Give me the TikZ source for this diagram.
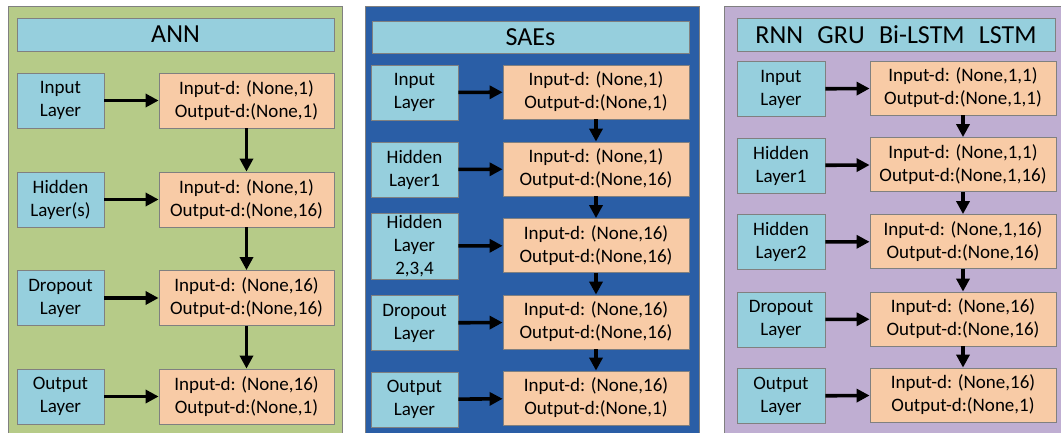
\documentclass[tikz,border=0pt]{standalone}
\usepackage{fontspec}
\setmainfont{Carlito}
\usetikzlibrary{arrows.meta}

\definecolor{annbg}{RGB}{182,203,136}
\definecolor{saebg}{RGB}{42,94,166}
\definecolor{rnnbg}{RGB}{191,174,210}
\definecolor{layerblue}{RGB}{150,207,221}
\definecolor{dimpeach}{RGB}{248,203,166}
\definecolor{edgegray}{RGB}{128,128,128}

\tikzset{
  panel/.style={fill=#1,draw=edgegray,line width=0.8pt},
  titlebox/.style={draw=edgegray,fill=layerblue,line width=0.8pt,inner sep=0pt,
    minimum height=33pt,font=\fontsize{26}{30}\selectfont},
  layerbox/.style={draw=edgegray,fill=layerblue,line width=0.8pt,inner sep=0pt,
    align=center,minimum width=87pt,minimum height=55pt,
    font=\fontsize{19}{23}\selectfont},
  dimbox/.style={draw=edgegray,fill=dimpeach,line width=0.8pt,inner sep=0pt,
    align=center,minimum width=#1,minimum height=54pt,
    font=\fontsize{19}{23}\selectfont},
  dimbox/.default=186pt,
  flow/.style={-{Triangle[length=13pt,width=13pt]},line width=3.6pt}
}

\begin{document}
\begin{tikzpicture}[x=1pt,y=-1pt]
\useasboundingbox (0,0) rectangle (1061,432);
\clip (0,0) rectangle (1061,432);

% panels
\draw[panel=annbg] (8,6) rectangle (342,440);
\draw[panel=saebg] (365,6) rectangle (699,440);
\draw[panel=rnnbg] (724,6) rectangle (1070,440);

% ANN
\node[titlebox,minimum width=317pt] (aT) at (175.5,34.5) {ANN};

\node[layerbox] (aL1) at (60.5,100.5) {Input\\Layer};
\node[layerbox] (aL2) at (60.5,199.5) {Hidden\\Layer(s)};
\node[layerbox] (aL3) at (60.5,298) {Dropout\\Layer};
\node[layerbox] (aL4) at (60.5,396.5) {Output\\Layer};

\node[dimbox=175pt,minimum height=55pt] (aD1) at (246.5,100.5)
    {Input-d: (None,1)\\Output-d:(None,1)};
\node[dimbox=175pt,minimum height=55pt] (aD2) at (246.5,199.5)
    {Input-d: (None,1)\\Output-d:(None,16)};
\node[dimbox=175pt,minimum height=55pt] (aD3) at (246.5,298)
    {Input-d: (None,16)\\Output-d:(None,16)};
\node[dimbox=175pt,minimum height=55pt] (aD4) at (246.5,396.5)
    {Input-d: (None,16)\\Output-d:(None,1)};

\draw[flow] (aL1)--(aD1);
\draw[flow] (aL2)--(aD2);
\draw[flow] (aL3)--(aD3);
\draw[flow] (aL4)--(aD4);
\draw[flow] (aD1)--(aD2);
\draw[flow] (aD2)--(aD3);
\draw[flow] (aD3)--(aD4);

% SAEs
\node[titlebox,minimum width=317pt,minimum height=32pt] (sT) at (530.5,37) {SAEs};

\node[layerbox] (sL1) at (414.5,92.5) {Input\\Layer};
\node[layerbox] (sL2) at (414.5,169.5) {Hidden\\Layer1};
\node[layerbox,minimum height=66pt] (sL3) at (414.5,246) {Hidden\\Layer\\2,3,4};
\node[layerbox] (sL4) at (414.5,323) {Dropout\\Layer};
\node[layerbox] (sL5) at (414.5,399.5) {Output\\Layer};

\node[dimbox] (sD1) at (596,92) {Input-d: (None,1)\\Output-d:(None,1)};
\node[dimbox] (sD2) at (596,169) {Input-d: (None,1)\\Output-d:(None,16)};
\node[dimbox] (sD3) at (596,245.5) {Input-d: (None,16)\\Output-d:(None,16)};
\node[dimbox] (sD4) at (596,322) {Input-d: (None,16)\\Output-d:(None,16)};
\node[dimbox] (sD5) at (596,398) {Input-d: (None,16)\\Output-d:(None,1)};

\draw[flow] (sL1)--(sD1);
\draw[flow] (sL2)--(sD2);
\draw[flow] (sL3)--(sD3);
\draw[flow] (sL4)--(sD4);
\draw[flow] (sL5)--(sD5);
\draw[flow] (sD1)--(sD2);
\draw[flow] (sD2)--(sD3);
\draw[flow] (sD3)--(sD4);
\draw[flow] (sD4)--(sD5);

% RNN family
\node[titlebox,minimum width=318pt] (rT) at (896,34.5)
    {RNN\hspace{0.55em}GRU\hspace{0.55em}Bi-LSTM\hspace{0.55em}LSTM};

\node[layerbox,minimum width=88pt] (rL1) at (781,89) {Input\\Layer};
\node[layerbox,minimum width=88pt] (rL2) at (781,165.5) {Hidden\\Layer1};
\node[layerbox,minimum width=88pt] (rL3) at (781,242) {Hidden\\Layer2};
\node[layerbox,minimum width=88pt] (rL4) at (781,319.5) {Dropout\\Layer};
\node[layerbox,minimum width=88pt] (rL5) at (781,396) {Output\\Layer};

\node[dimbox] (rD1) at (963,88) {Input-d: (None,1,1)\\Output-d:(None,1,1)};
\node[dimbox] (rD2) at (963,164.5) {Input-d: (None,1,1)\\Output-d:(None,1,16)};
\node[dimbox] (rD3) at (963,241.5) {Input-d: (None,1,16)\\Output-d:(None,16)};
\node[dimbox] (rD4) at (963,319) {Input-d: (None,16)\\Output-d:(None,16)};
\node[dimbox] (rD5) at (963,395) {Input-d: (None,16)\\Output-d:(None,1)};

\draw[flow] (rL1)--(rD1);
\draw[flow] (rL2)--(rD2);
\draw[flow] (rL3)--(rD3);
\draw[flow] (rL4)--(rD4);
\draw[flow] (rL5)--(rD5);
\draw[flow] (rD1)--(rD2);
\draw[flow] (rD2)--(rD3);
\draw[flow] (rD3)--(rD4);
\draw[flow] (rD4)--(rD5);
\end{tikzpicture}
\end{document}
